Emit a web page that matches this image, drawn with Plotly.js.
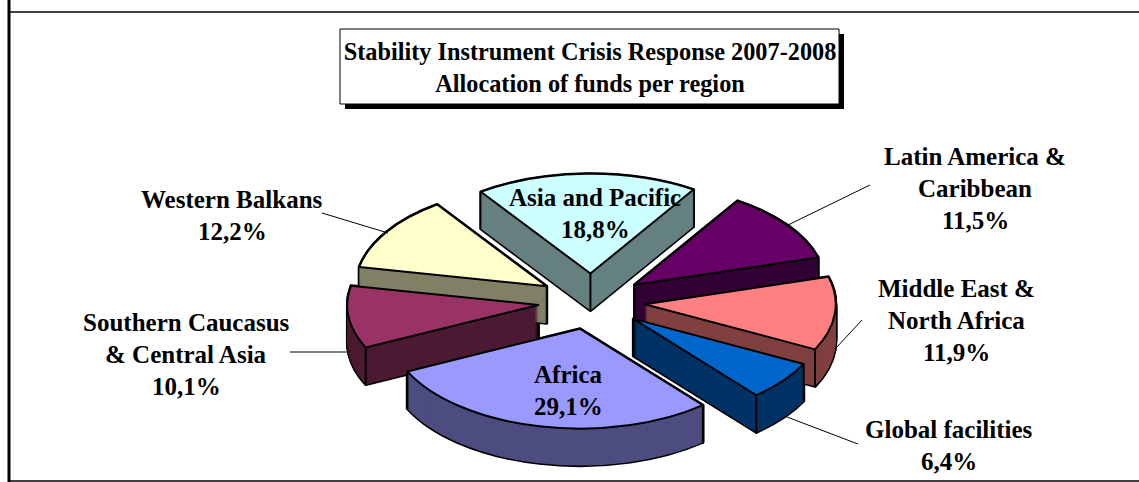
<!DOCTYPE html>
<html>
<head>
<meta charset="utf-8">
<script src="https://cdn.plot.ly/plotly-3.0.1.min.js"></script>
<style>html,body{margin:0;padding:0;background:#fff;overflow:hidden}</style>
</head>
<body>
<div id="chart" style="width:1139px;height:482px"></div>
<script>
// ---- data ----
var regions = ["Asia and Pacific","Latin America & Caribbean","Middle East & North Africa","Global facilities","Africa","Southern Caucasus & Central Asia","Western Balkans"];
var shares = [18.8,11.5,11.9,6.4,29.1,10.1,12.2];
var topColors = ["#ccffff","#660066","#ff8080","#0066cc","#9999ff","#993366","#ffffcc"];
var sideColors = ["#668080","#330033","#804040","#003366","#4d4d80","#4d1a33","#808066"];
var labelLines = [["Asia and Pacific"],["Latin America &","Caribbean"],["Middle East &","North Africa"],["Global facilities"],["Africa"],["Southern Caucasus","& Central Asia"],["Western Balkans"]];
var labelCentreX = [595,975,956,949,568,186,232];
var labelFirstY = [197,157,288,429,374,322,199];
var leaders = [[322,213,388,233],[788,225,870,185],[836,348,862,320],[787,417,858,444],[290,352,350,352]];
var W = 1139, H = 482;
var cx = 591.5, cy = 301.5, R = 191, tilt = 0.53, depth = 37, pull = 0.28, startAngle = -35;
var serif = "'Liberation Serif','Times New Roman',serif";

function px(x){ return x / W; }
function py(y){ return 1 - y / H; }

function pieLayer(colors, lineColor, lineWidth){
  return {
    type: "pie", labels: regions, values: shares, sort: false, direction: "clockwise",
    rotation: startAngle, pull: pull, textinfo: "none", hoverinfo: "label+percent", showlegend: false,
    domain: {x: [px(cx) - 0.3, px(cx) + 0.3], y: [0, 1]},
    marker: {colors: colors, line: {color: lineColor, width: lineWidth}}
  };
}

// Stacked pies, deepest first: black silhouette pass, then colour pass, then lit top face.
var traces = [], offsets = [];
var i;
for (i = depth; i >= 0; i--) {
  traces.push(pieLayer(regions.map(function(){return "#000000";}), "#000000", 3));
  offsets.push(i);
}
for (i = depth; i >= 1; i--) {
  traces.push(pieLayer(sideColors, "rgba(0,0,0,0)", 0));
  offsets.push(i);
}
traces.push(pieLayer(topColors, "#000000", 2));
offsets.push(0);

// Frame, title box, leader lines
var shapes = [
  {type:"line",xref:"paper",yref:"paper",x0:px(9),x1:px(9),y0:py(0),y1:py(H),line:{color:"#000",width:3}},
  {type:"line",xref:"paper",yref:"paper",x0:px(9),x1:px(W),y0:py(12),y1:py(12),line:{color:"#000",width:1.5}},
  {type:"line",xref:"paper",yref:"paper",x0:px(9),x1:px(W),y0:py(481),y1:py(481),line:{color:"#000",width:1.5}},
  {type:"rect",xref:"paper",yref:"paper",x0:px(345),x1:px(844),y0:py(34),y1:py(109),fillcolor:"#000",line:{width:0}},
  {type:"rect",xref:"paper",yref:"paper",x0:px(340),x1:px(839),y0:py(29),y1:py(104),fillcolor:"#fff",line:{color:"#000",width:1}}
];
leaders.forEach(function(l){
  shapes.push({type:"line",xref:"paper",yref:"paper",x0:px(l[0]),y0:py(l[1]),x1:px(l[2]),y1:py(l[3]),line:{color:"#000",width:1}});
});

// Vertical edges of the extrusion, derived from the shares
function addEdge(x, y){
  shapes.push({type:"line",xref:"paper",yref:"paper",x0:px(x),x1:px(x),y0:py(y),y1:py(y+depth),line:{color:"#000",width:2}});
}
var total = shares.reduce(function(a,b){return a+b;},0), acc = startAngle;
shares.forEach(function(s){
  var a0 = acc, a1 = acc + s / total * 360, mid = (a0 + a1) / 2; acc = a1;
  var rad = Math.PI / 180, e = R * pull;
  var tx = cx + e * Math.sin(mid * rad), ty = cy - e * tilt * Math.cos(mid * rad);
  [a0, a1].forEach(function(a){
    if (Math.cos(a * rad) < 0) addEdge(tx + R * Math.sin(a * rad), ty - R * tilt * Math.cos(a * rad));
  });
  if (a0 < 0 && a1 > 0) addEdge(tx, ty);
});

// Labels: one annotation per line to keep the wide leading of the picture
var annotations = [], lineStep = 32;
regions.forEach(function(r, k){
  var lines = labelLines[k].concat([String(shares[k]).replace(".", ",") + "%"]);
  lines.forEach(function(t, j){
    annotations.push({
      xref:"paper",yref:"paper",x:px(labelCentreX[k]),y:py(labelFirstY[k] + j * lineStep),
      xanchor:"center",yanchor:"middle",showarrow:false,text:"<b>" + t.replace("&","&amp;") + "</b>",
      font:{family:serif,size:25,color:"#000"}
    });
  });
});

var layout = {
  width: W, height: H, margin: {l:0,r:0,t:0,b:0}, paper_bgcolor:"#fff", plot_bgcolor:"#fff", showlegend:false,
  title: {text:"<b>Stability Instrument Crisis Response 2007-2008</b><br><b>Allocation of funds per region</b>",
    xref:"paper",yref:"paper",x:px(590),y:py(60),xanchor:"center",yanchor:"middle",
    font:{family:serif,size:24.3,color:"#000"}},
  shapes: shapes, annotations: annotations
};

Plotly.newPlot("chart", traces, layout, {displayModeBar:false, staticPlot:true}).then(function(gd){
  var groups = gd.querySelectorAll(".pielayer .trace");
  var r = (H / 2) / (1 + pull);
  groups.forEach(function(g, n){
    g.setAttribute("transform",
      "translate(" + cx + "," + (cy + offsets[n]) + ") scale(" + (R / r) + "," + tilt + ") translate(" + (-cx) + "," + (-H / 2) + ")");
    g.querySelectorAll("path").forEach(function(p){ p.style.vectorEffect = "non-scaling-stroke"; });
  });
});
</script>
</body>
</html>
